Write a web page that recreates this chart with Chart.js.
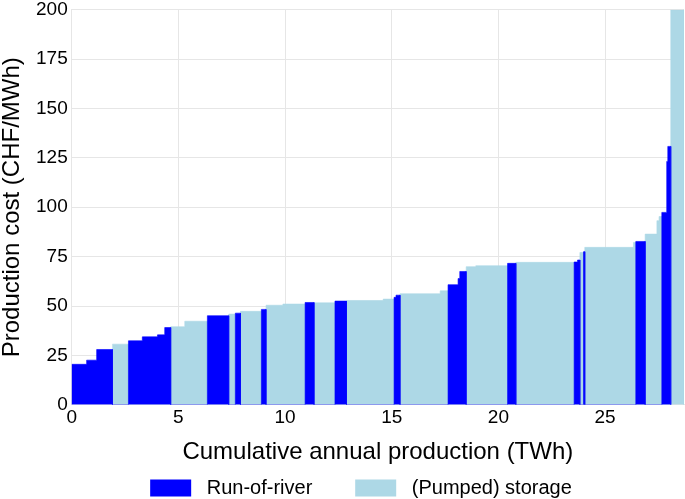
<!DOCTYPE html>
<html>
<head>
<meta charset="utf-8">
<script src="https://cdn.jsdelivr.net/npm/chart.js@4/dist/chart.umd.min.js"></script>
<style>
html,body{margin:0;padding:0;background:#fff;}
#wrap{width:685px;height:499px;position:relative;}
</style>
</head>
<body>
<div id="wrap"><canvas id="c"></canvas></div>
<script>
// Supply curve segments, in merit order
const segStart = [0,0.70,1.17,1.91,2.66,3.31,4.02,4.36,4.64,5.30,6.36,7.36,7.67,7.91,8.89,9.11,9.90,10.94,11.36,12.34,12.88,14.60,15.11,15.20,15.39,17.27,17.64,18.11,18.19,18.49,18.94,20.43,20.82,23.55,23.71,23.82,23.99,24.05,26.33,26.44,26.88,27.43,27.53,27.66,27.89,27.94,28.08];
const segEnd   = [0.70,1.17,1.91,2.66,3.31,4.02,4.36,4.64,5.30,6.36,7.36,7.67,7.91,8.89,9.11,9.90,10.94,11.36,12.34,12.88,14.60,15.11,15.20,15.39,17.27,17.64,18.11,18.19,18.49,18.94,20.43,20.82,23.55,23.71,23.82,23.99,24.05,26.33,26.44,26.88,27.43,27.53,27.66,27.89,27.94,28.08,28.70];
const segCost  = [20.5,22.6,28.0,30.7,32.4,34.4,35.4,39.1,39.5,42.3,45.1,45.9,46.4,47.3,48.3,50.4,51.0,51.8,51.6,52.5,52.8,53.5,54.4,55.5,56.2,57.7,60.8,63.9,67.5,69.9,70.4,71.6,72.1,72.3,73.3,77.1,77.5,79.7,82.2,82.7,86.4,93.2,95.3,97.4,123.2,130.8,200];
const segType  = ['R','R','R','S','R','R','R','R','S','S','R','S','R','S','R','S','S','R','S','R','S','S','R','R','S','S','R','R','R','S','S','R','S','R','R','S','R','S','S','R','S','S','S','R','R','R','S'];
const typeLabels = {R:'Run-of-river', S:'(Pumped) storage'};
const typeColors = {R:'#0000ff', S:'#add8e6'};
const xTicks = [0,5,10,15,20,25];
const yTicks = [0,25,50,75,100,125,150,175,200];

function buildPoints(t){
  const pts = [];
  for (let i=0;i<segCost.length;i++){
    if (segType[i]!==t) continue;
    const prevSame = i>0 && segType[i-1]===t;
    const nextSame = i<segCost.length-1 && segType[i+1]===t;
    if (!prevSame) pts.push({x:segStart[i], y:0});
    pts.push({x:segStart[i], y:segCost[i]});
    pts.push({x:segEnd[i], y:segCost[i]});
    if (!nextSame) pts.push({x:segEnd[i], y:0});
  }
  return pts;
}

const font = 'Liberation Sans, Arial, sans-serif';
const datasets = ['R','S'].map(t => ({
  label: typeLabels[t],
  data: buildPoints(t),
  backgroundColor: typeColors[t],
  borderColor: typeColors[t],
  borderWidth: 0.6,
  pointRadius: 0,
  fill: 'origin',
  tension: 0
}));

const legendShift = {
  id: 'legendShift',
  afterLayout(chart){ if (chart.legend){ chart.legend.left += 19; chart.legend.right += 19; } }
};

new Chart(document.getElementById('c'), {
  type: 'line',
  data: { datasets },
  plugins: [legendShift],
  options: {
    responsive: true,
    maintainAspectRatio: false,
    animation: false,
    layout: { padding: { top: 0, right: 1, left: 0, bottom: -9 } },
    plugins: {
      tooltip: { enabled: false },
      legend: {
        position: 'bottom',
        labels: {
          boxWidth: 41, boxHeight: 17, color: '#000', font: { family: font, size: 20 }, padding: 4,
          generateLabels(chart){
            const items = Chart.defaults.plugins.legend.labels.generateLabels(chart);
            items.forEach((it, i) => { it.text = ' ' + it.text + (i === 0 ? '       ' : ''); it.lineWidth = 0; });
            return items;
          }
        }
      }
    },
    scales: {
      x: {
        type: 'linear', min: 0, max: 28.7,
        afterBuildTicks: s => { s.ticks = xTicks.map(v => ({value: v})); },
        grid: { color: '#e6e6e6', drawTicks: false },
        border: { color: '#e6e6e6' },
        ticks: { color: '#000', font: { family: font, size: 19, lineHeight: 1 }, padding: 3 },
        title: { display: true, text: 'Cumulative annual production (TWh)', color: '#000', font: { family: font, size: 24, lineHeight: 1.2 }, padding: { top: 8.6, bottom: 6.8 } }
      },
      y: {
        type: 'linear', min: 0, max: 200,
        afterBuildTicks: s => { s.ticks = yTicks.map(v => ({value: v})); },
        grid: { color: '#e6e6e6', drawTicks: false },
        border: { color: '#e6e6e6' },
        ticks: { color: '#000', font: { family: font, size: 19, lineHeight: 0.6 }, padding: 4 },
        title: { display: true, text: 'Production cost (CHF/MWh)', color: '#000', font: { family: font, size: 24, lineHeight: 1 }, padding: { top: 0, bottom: 8 } }
      }
    }
  }
});
</script>
</body>
</html>
